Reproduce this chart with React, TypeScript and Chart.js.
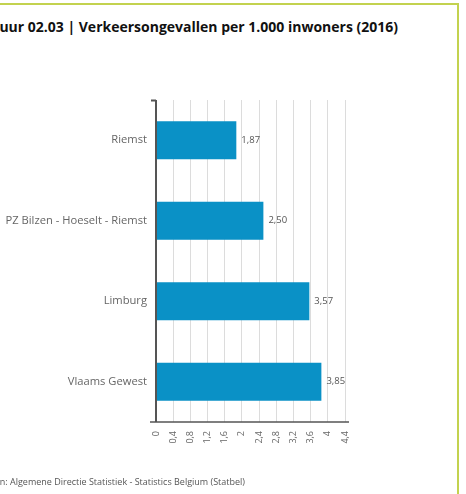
import React, { useEffect, useRef } from "react";
import { Chart, registerables } from "chart.js";

Chart.register(...registerables);

const categories = ["Riemst", "PZ Bilzen - Hoeselt - Riemst", "Limburg", "Vlaams Gewest"];
const values = [1.87, 2.5, 3.57, 3.85];
const valueLabels = ["1,87", "2,50", "3,57", "3,85"];
const tickValues = [0, 0.4, 0.8, 1.2, 1.6, 2, 2.4, 2.8, 3.2, 3.6, 4, 4.4];
const tickLabels = ["0", "0,4", "0,8", "1,2", "1,6", "2", "2,4", "2,8", "3,2", "3,6", "4", "4,4"];
const titleText = "Figuur 02.03 | Verkeersongevallen per 1.000 inwoners (2016)";
const sourceText = "Bron: Algemene Directie Statistiek - Statistics Belgium (Statbel)";

const FONT = "'Open Sans', 'DejaVu Sans', sans-serif";

const decorPlugin = {
  id: "decor",
  afterDatasetsDraw(chart: any) {
    const { ctx, chartArea } = chart;
    const meta = chart.getDatasetMeta(0);
    ctx.save();
    ctx.font = `9.5px ${FONT}`;
    ctx.fillStyle = "#555";
    ctx.textAlign = "left";
    ctx.textBaseline = "middle";
    meta.data.forEach((bar: any, i: number) => {
      ctx.fillText(valueLabels[i], bar.x + 5, bar.y);
    });
    ctx.strokeStyle = "#555";
    ctx.lineWidth = 2;
    ctx.beginPath();
    ctx.moveTo(chartArea.left, chartArea.top);
    ctx.lineTo(chartArea.left, chartArea.bottom);
    ctx.moveTo(chartArea.left - 5, chartArea.top + 0.5);
    ctx.lineTo(chartArea.left, chartArea.top + 0.5);
    ctx.stroke();
    ctx.lineWidth = 1.5;
    ctx.beginPath();
    ctx.moveTo(chartArea.left - 6, chartArea.bottom);
    ctx.lineTo(chartArea.right + 4, chartArea.bottom);
    ctx.stroke();
    ctx.restore();
  },
};

export default function App() {
  const ref = useRef<HTMLCanvasElement>(null);
  useEffect(() => {
    if (!ref.current) return;
    const chart = new Chart(ref.current, {
      type: "bar",
      data: {
        labels: categories,
        datasets: [
          {
            data: values,
            backgroundColor: "#0a91c6",
            barPercentage: 0.95,
            categoryPercentage: 0.5,
          },
        ],
      },
      options: {
        indexAxis: "y",
        responsive: false,
        animation: false,
        layout: { padding: { left: 0, right: 121, top: 100, bottom: 30 } },
        plugins: { legend: { display: false }, tooltip: { enabled: false }, title: { display: false } },
        scales: {
          x: {
            min: 0,
            max: 4.4,
            afterBuildTicks(scale: any) {
              scale.ticks = tickValues.map((v) => ({ value: v }));
            },
            afterFit(scale: any) {
              scale.height = 42;
            },
            grid: { color: "#dcdcdc", drawTicks: false, lineWidth: 1 },
            border: { display: false },
            ticks: {
              autoSkip: false,
              maxRotation: 90,
              minRotation: 90,
              padding: 9,
              color: "#666",
              font: { size: 9, family: FONT },
              callback: (v: any) => {
                const idx = tickValues.findIndex((t) => Math.abs(t - Number(v)) < 1e-6);
                return idx >= 0 ? tickLabels[idx] : "";
              },
            },
          },
          y: {
            afterFit(scale: any) {
              scale.width = 156;
            },
            grid: { display: false, drawTicks: false },
            border: { display: false },
            ticks: { padding: 9, color: "#666", font: { size: 11.2, family: FONT } },
          },
        },
      },
      plugins: [decorPlugin],
    } as any);
    return () => chart.destroy();
  }, []);

  return (
    <div style={{ position: "absolute", left: 0, top: 0, width: 466, height: 494, overflow: "hidden", background: "#fff" }}>
      <div
        style={{
          position: "absolute",
          left: 0,
          top: 3,
          width: 457,
          height: 491,
          borderTop: "2px solid #c3d24f",
          borderRight: "2px solid #c3d24f",
        }}
      />
      <div
        style={{
          position: "absolute",
          right: 68,
          top: 17,
          whiteSpace: "nowrap",
          font: `bold 14px ${FONT}`,
          color: "#111",
        }}
      >
        {titleText}
      </div>
      <canvas ref={ref} width={466} height={494} style={{ position: "absolute", left: 0, top: 0 }} />
      <div
        style={{
          position: "absolute",
          right: 221,
          top: 475,
          whiteSpace: "nowrap",
          font: `9px ${FONT}`,
          color: "#555",
        }}
      >
        {sourceText}
      </div>
    </div>
  );
}
